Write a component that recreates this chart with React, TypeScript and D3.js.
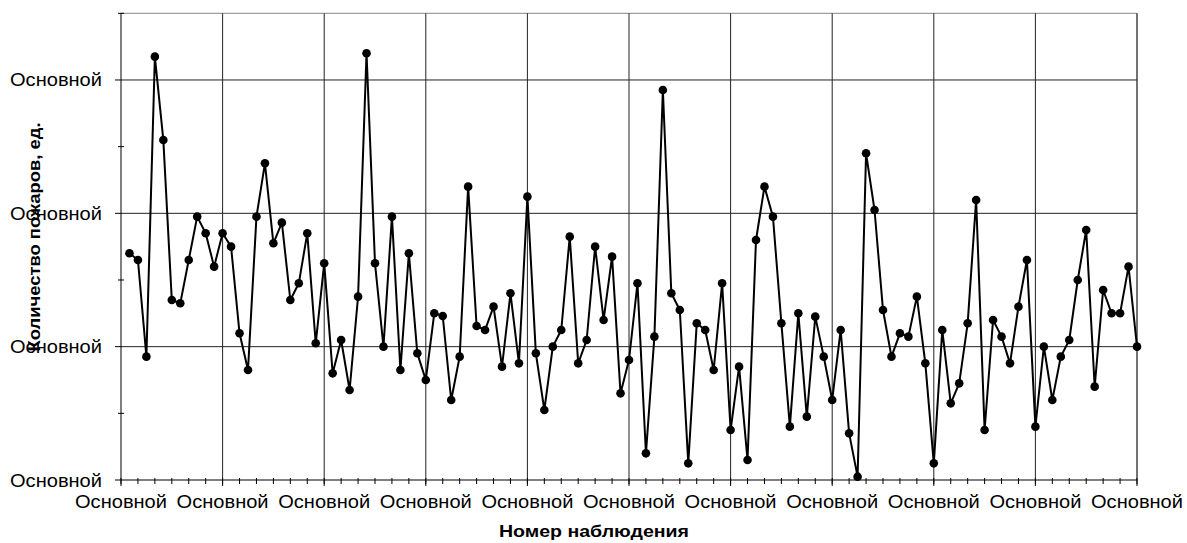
import React from "react";
import * as d3 from "d3";

const values: number[] = [
  3.40, 3.30, 1.85, 6.35, 5.10, 2.70, 2.65, 3.30, 3.95, 3.70,
  3.20, 3.70, 3.50, 2.20, 1.65, 3.95, 4.75, 3.55, 3.86, 2.70,
  2.95, 3.70, 2.05, 3.25, 1.60, 2.10, 1.35, 2.75, 6.40, 3.25,
  2.00, 3.95, 1.65, 3.40, 1.90, 1.50, 2.50, 2.46, 1.20, 1.85,
  4.40, 2.31, 2.25, 2.60, 1.70, 2.80, 1.75, 4.25, 1.90, 1.05,
  2.00, 2.25, 3.65, 1.75, 2.10, 3.50, 2.40, 3.35, 1.30, 1.80,
  2.95, 0.40, 2.15, 5.85, 2.80, 2.55, 0.25, 2.35, 2.25, 1.65,
  2.95, 0.75, 1.70, 0.30, 3.60, 4.40, 3.95, 2.35, 0.80, 2.50,
  0.95, 2.45, 1.85, 1.20, 2.25, 0.70, 0.05, 4.90, 4.05, 2.55,
  1.85, 2.20, 2.15, 2.75, 1.75, 0.25, 2.25, 1.15, 1.45, 2.35,
  4.20, 0.75, 2.40, 2.15, 1.75, 2.60, 3.30, 0.80, 2.00, 1.20,
  1.85, 2.10, 3.00, 3.75, 1.40, 2.85, 2.50, 2.50, 3.20, 2.00,
];

const xMajorTicks: number[] = [0, 12, 24, 36, 48, 60, 72, 84, 96, 108, 120];
const xMinorTicks: number[] = d3.range(0, 121, 2);
const yMajorTicks: number[] = [0, 2, 4, 6];
const yMinorTicks: number[] = [1, 3, 5, 7];
const tickLabel = "Основной";
const yTitle = "Количество пожаров, ед.";
const xTitle = "Номер наблюдения";

const W = 1187;
const H = 543;
const left = 121;
const right = 1137;
const top = 13.3;
const bottom = 480;

export default function App() {
  const x = d3.scaleLinear().domain([0, 120]).range([left, right]);
  const y = d3.scaleLinear().domain([0, 7]).range([bottom, top]);
  const pts = values.map((v, i) => [x(i + 1), y(v)] as [number, number]);
  const line = d3.line<[number, number]>()(pts) || "";
  const font = "'Liberation Sans', Arial, sans-serif";

  return (
    <svg
      width={W}
      height={H}
      style={{ position: "absolute", left: 0, top: 0, background: "#fff" }}
    >
      <rect x={0} y={0} width={W} height={H} fill="#fff" />
      {/* plot frame top/right */}
      <line x1={left} x2={right} y1={top} y2={top} stroke="#888" strokeWidth={1} />
      <line x1={right} x2={right} y1={top} y2={bottom} stroke="#888" strokeWidth={1} />
      {/* horizontal gridlines */}
      {yMajorTicks.filter((t) => t > 0).map((t) => (
        <line key={"hg" + t} x1={left} x2={right} y1={y(t)} y2={y(t)} stroke="#222" strokeWidth={1} />
      ))}
      {/* vertical gridlines */}
      {xMajorTicks.filter((t) => t > 0).map((t) => (
        <line key={"vg" + t} x1={x(t)} x2={x(t)} y1={top} y2={bottom} stroke="#222" strokeWidth={1} />
      ))}
      {/* axes */}
      <line x1={left} x2={left} y1={top} y2={bottom} stroke="#000" strokeWidth={1} />
      <line x1={left} x2={right} y1={bottom} y2={bottom} stroke="#000" strokeWidth={1} />
      {yMajorTicks.map((t) => (
        <line key={"ymt" + t} x1={left - 6} x2={left} y1={y(t)} y2={y(t)} stroke="#000" />
      ))}
      {yMinorTicks.map((t) => (
        <line key={"ymn" + t} x1={left - 3} x2={left + 3} y1={y(t)} y2={y(t)} stroke="#000" />
      ))}
      {xMinorTicks.map((t) => (
        <line key={"xmn" + t} x1={x(t)} x2={x(t)} y1={bottom - 2} y2={bottom + 4} stroke="#000" />
      ))}
      {xMajorTicks.map((t) => (
        <line key={"xmt" + t} x1={x(t)} x2={x(t)} y1={bottom} y2={bottom + 6} stroke="#000" />
      ))}
      {/* tick labels */}
      {yMajorTicks.map((t) => (
        <text
          key={"yl" + t}
          x={102}
          y={y(t) + 6.5}
          textAnchor="end"
          fontFamily={font}
          fontSize={18}
          textLength={92}
          lengthAdjust="spacingAndGlyphs"
          fill="#000"
        >
          {tickLabel}
        </text>
      ))}
      {xMajorTicks.map((t) => (
        <text
          key={"xl" + t}
          x={x(t)}
          y={508}
          textAnchor="middle"
          fontFamily={font}
          fontSize={18}
          textLength={92}
          lengthAdjust="spacingAndGlyphs"
          fill="#000"
        >
          {tickLabel}
        </text>
      ))}
      {/* series */}
      <path d={line} fill="none" stroke="#000" strokeWidth={2} strokeLinejoin="round" />
      {pts.map((p, i) => (
        <circle key={"c" + i} cx={p[0]} cy={p[1]} r={4.3} fill="#000" />
      ))}
      {/* titles */}
      <text
        transform={`translate(40, 237) rotate(-90)`}
        textAnchor="middle"
        fontFamily={font}
        fontSize={16}
        fontWeight="bold"
        textLength={229}
        lengthAdjust="spacingAndGlyphs"
        fill="#000"
      >
        {yTitle}
      </text>
      <text
        x={594}
        y={537}
        textAnchor="middle"
        fontFamily={font}
        fontSize={16}
        fontWeight="bold"
        textLength={190}
        lengthAdjust="spacingAndGlyphs"
        fill="#000"
      >
        {xTitle}
      </text>
    </svg>
  );
}
